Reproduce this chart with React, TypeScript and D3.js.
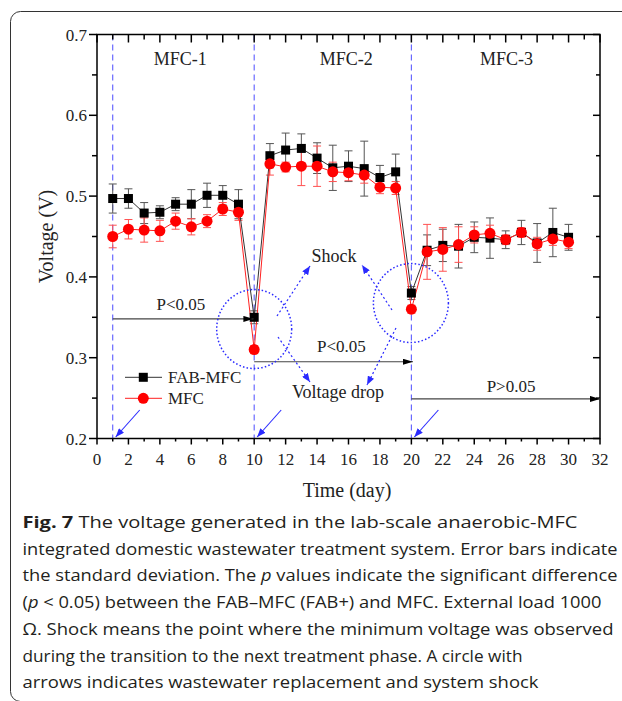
import React from "react";
import * as d3 from "d3";

const days = [1,2,3,4,5,6,7,8,9,10,11,12,13,14,15,16,17,18,19,20,21,22,23,24,25,26,27,28,29,30];
const fabMfc = [0.497,0.497,0.479,0.480,0.490,0.490,0.501,0.501,0.490,0.350,0.550,0.557,0.559,0.547,0.535,0.537,0.534,0.523,0.530,0.380,0.433,0.439,0.438,0.449,0.448,0.446,0.455,0.442,0.455,0.449];
const fabErr = [0.018,0.012,0.013,0.008,0.008,0.018,0.015,0.012,0.018,0.008,0.015,0.021,0.018,0.019,0.028,0.019,0.034,0.015,0.022,0.008,0.019,0.020,0.027,0.019,0.025,0.011,0.015,0.024,0.030,0.016];
const mfc = [0.450,0.459,0.458,0.457,0.469,0.462,0.469,0.484,0.480,0.310,0.540,0.536,0.537,0.537,0.530,0.529,0.526,0.511,0.510,0.360,0.431,0.434,0.440,0.452,0.454,0.446,0.455,0.441,0.447,0.443];
const mfcErr = [0.014,0.012,0.015,0.013,0.010,0.010,0.008,0.008,0.010,0.005,0.014,0.006,0.024,0.025,0.012,0.010,0.010,0.008,0.008,0.005,0.034,0.027,0.022,0.010,0.010,0.006,0.006,0.008,0.008,0.008];

const xMajor = [0,2,4,6,8,10,12,14,16,18,20,22,24,26,28,30,32];
const xMinor = [1,3,5,7,9,11,13,15,17,19,21,23,25,27,29,31];
const yMajor = [0.2,0.3,0.4,0.5,0.6,0.7];
const yMinor = [0.25,0.35,0.45,0.55,0.65];

const phaseLines = [1,10,20];
const phaseLabels = [{ t: "MFC-1", x: 5.3 }, { t: "MFC-2", x: 15.85 }, { t: "MFC-3", x: 26.05 }];
const pArrows = [
  { x1: 1, x2: 9.95, y: 0.348, label: "P<0.05", lx: 5.34, ly: 0.359 },
  { x1: 10, x2: 20.1, y: 0.295, label: "P<0.05", lx: 15.55, ly: 0.3075 },
  { x1: 20, x2: 32, y: 0.249, label: "P>0.05", lx: 26.34, ly: 0.258 },
];
const shockCircles = [
  { x: 10, y: 0.3355 },
  { x: 19.97, y: 0.3677 },
];

const caption = [
  "integrated domestic wastewater treatment system. Error bars indicate",
  "the standard deviation. The ",
  "(",
  "Ω. Shock means the point where the minimum voltage was observed",
  "during the transition to the next treatment phase. A circle with",
  "arrows indicates wastewater replacement and system shock",
];

const W = 622, H = 701;
const x = d3.scaleLinear().domain([0, 32]).range([97, 600]);
const y = d3.scaleLinear().domain([0.2, 0.7]).range([438.5, 34.5]);

const serif = "'Liberation Serif', 'Times New Roman', serif";
const sans = "'Open Sans', 'Noto Sans', sans-serif";

export default function App() {
  const line = d3.line<number>().x((_, i) => x(days[i])).y((d) => y(d));
  const blue = "#2a2aff";
  const [x0, x1] = x.range();
  const [yb, yt] = y.range();

  const errBars = (vals: number[], errs: number[], color: string) =>
    vals.map((v, i) => {
      const cx = x(days[i]);
      const t = y(v + errs[i]);
      const b = y(v - errs[i]);
      return (
        <g key={i} stroke={color} strokeWidth={1}>
          <line x1={cx} x2={cx} y1={t} y2={b} />
          <line x1={cx - 4} x2={cx + 4} y1={t} y2={t} />
          <line x1={cx - 4} x2={cx + 4} y1={b} y2={b} />
        </g>
      );
    });

  return (
    <svg width={W} height={H} style={{ position: "absolute", left: 0, top: 0, background: "#fff" }}>
      <defs>
        <marker id="blackArrow" viewBox="0 0 10 6" refX="10" refY="3" markerWidth="10" markerHeight="6" markerUnits="userSpaceOnUse" orient="auto">
          <path d="M0,0 L10,3 L0,6 Z" fill="#000" />
        </marker>
        <marker id="blueArrow" viewBox="0 0 10 8" refX="10" refY="4" markerWidth="9" markerHeight="7" markerUnits="userSpaceOnUse" orient="auto">
          <path d="M0,0 L10,4 L0,8 Z" fill={blue} />
        </marker>
      </defs>
      <rect x={10.5} y={11.5} width={700} height={690} rx={10} fill="none" stroke="#333" strokeWidth={1} />

      {phaseLines.map((d) => (
        <line key={d} x1={x(d)} x2={x(d)} y1={yt} y2={yb} stroke="#5c5cff" strokeWidth={1.1} strokeDasharray="6,4" />
      ))}

      {errBars(fabMfc, fabErr, "#555")}
      {errBars(mfc, mfcErr, "#ff5050")}

      <path d={line(fabMfc) || ""} fill="none" stroke="#333" strokeWidth={1} />
      <path d={line(mfc) || ""} fill="none" stroke="#ff2020" strokeWidth={1} />

      {fabMfc.map((v, i) => (
        <rect key={i} x={x(days[i]) - 4.5} y={y(v) - 4.5} width={9} height={9} fill="#000" />
      ))}
      {mfc.map((v, i) => (
        <circle key={i} cx={x(days[i])} cy={y(v)} r={5.5} fill="#ff0000" />
      ))}

      <g stroke="#000" strokeWidth={1.5} fill="none">
        <rect x={x0} y={yt} width={x1 - x0} height={yb - yt} />
        {xMajor.map((d) => (
          <g key={"xm" + d}>
            <line x1={x(d)} x2={x(d)} y1={yb} y2={yb + 6} />
            <line x1={x(d)} x2={x(d)} y1={yt} y2={yt + 8} />
          </g>
        ))}
        {xMinor.map((d) => (
          <g key={"xn" + d}>
            <line x1={x(d)} x2={x(d)} y1={yb} y2={yb + 3} />
            <line x1={x(d)} x2={x(d)} y1={yt} y2={yt + 5} />
          </g>
        ))}
        {yMajor.map((d) => (
          <g key={"ym" + d}>
            <line x1={x0 - 8} x2={x0} y1={y(d)} y2={y(d)} />
            <line x1={x1 - 7} x2={x1} y1={y(d)} y2={y(d)} />
          </g>
        ))}
        {yMinor.map((d) => (
          <g key={"yn" + d}>
            <line x1={x0 - 5} x2={x0} y1={y(d)} y2={y(d)} />
            <line x1={x1 - 4} x2={x1} y1={y(d)} y2={y(d)} />
          </g>
        ))}
      </g>

      <g fontFamily={serif} fontSize={17} fill="#222">
        {xMajor.map((d) => (
          <text key={d} x={x(d)} y={yb + 26} textAnchor="middle">{d}</text>
        ))}
        {yMajor.map((d) => (
          <text key={d} x={x0 - 10} y={y(d) + 6} textAnchor="end">{d.toFixed(1)}</text>
        ))}
      </g>

      <text x={347} y={497} textAnchor="middle" fontFamily={serif} fontSize={20} fill="#222">Time (day)</text>
      <text transform={`translate(53,${(yt + yb) / 2}) rotate(-90)`} textAnchor="middle" fontFamily={serif} fontSize={20} fill="#222">Voltage (V)</text>

      {phaseLabels.map((p) => (
        <text key={p.t} x={x(p.x)} y={65} textAnchor="middle" fontFamily={serif} fontSize={18} fill="#222">{p.t}</text>
      ))}

      {pArrows.map((a, i) => (
        <g key={i}>
          <line x1={x(a.x1)} x2={x(a.x2)} y1={y(a.y)} y2={y(a.y)} stroke="#444" strokeWidth={1.2} markerEnd="url(#blackArrow)" />
          <text x={x(a.lx)} y={y(a.ly)} textAnchor="middle" fontFamily={serif} fontSize={17} fill="#222">{a.label}</text>
        </g>
      ))}

      {shockCircles.map((c, i) => (
        <ellipse key={i} cx={x(c.x)} cy={y(c.y)} rx={37.5} ry={39.5} fill="none" stroke={blue} strokeWidth={1.5} strokeDasharray="1.5,2.2" />
      ))}

      <g stroke={blue} strokeWidth={1.2} strokeDasharray="2,2.5" fill="none">
        <line x1={277} y1={316} x2={310} y2={266} markerEnd="url(#blueArrow)" />
        <line x1={392} y1={310} x2={362} y2={265} markerEnd="url(#blueArrow)" />
        <line x1={278} y1={337} x2={310} y2={382} markerEnd="url(#blueArrow)" />
        <line x1={396} y1={328} x2={367} y2={385} markerEnd="url(#blueArrow)" />
      </g>
      <text x={334} y={262} textAnchor="middle" fontFamily={serif} fontSize={18} fill="#222">Shock</text>
      <text x={338} y={398} textAnchor="middle" fontFamily={serif} fontSize={18} fill="#222">Voltage drop</text>

      {phaseLines.map((d) => (
        <line key={d} x1={x(d) + 27} y1={410} x2={x(d) + 3} y2={437} stroke={blue} strokeWidth={1.1} markerEnd="url(#blueArrow)" />
      ))}

      <g>
        <line x1={125} x2={162} y1={377.3} y2={377.3} stroke="#333" strokeWidth={1} />
        <rect x={143.3 - 4.5} y={377.3 - 4.5} width={9} height={9} fill="#000" />
        <text x={168} y={382.5} fontFamily={serif} fontSize={17} fill="#222">FAB-MFC</text>
        <line x1={125} x2={162} y1={398.3} y2={398.3} stroke="#ff2020" strokeWidth={1} />
        <circle cx={143.3} cy={398.3} r={5.5} fill="#ff0000" />
        <text x={168} y={404} fontFamily={serif} fontSize={17} fill="#222">MFC</text>
      </g>

      <g fontFamily={sans} fontSize={16.5} fill="#231f20">
        <text x={22.5} y={528} textLength={555} lengthAdjust="spacingAndGlyphs">
          <tspan fontWeight="bold">Fig. 7</tspan>
          <tspan>{"  The voltage generated in the lab-scale anaerobic-MFC"}</tspan>
        </text>
        <text x={22.5} y={554.7} textLength={595} lengthAdjust="spacingAndGlyphs">{caption[0]}</text>
        <text x={22.5} y={581.4} textLength={595} lengthAdjust="spacingAndGlyphs">
          {caption[1]}<tspan fontStyle="italic">p</tspan>{" values indicate the significant difference"}
        </text>
        <text x={22.5} y={608.1} textLength={579} lengthAdjust="spacingAndGlyphs">
          {caption[2]}<tspan fontStyle="italic">p</tspan>{" < 0.05) between the FAB–MFC (FAB+) and MFC. External load 1000"}
        </text>
        <text x={22.5} y={634.8} textLength={591} lengthAdjust="spacingAndGlyphs">{caption[3]}</text>
        <text x={22.5} y={661.5} textLength={500} lengthAdjust="spacingAndGlyphs">{caption[4]}</text>
        <text x={22.5} y={688.2} textLength={516} lengthAdjust="spacingAndGlyphs">{caption[5]}</text>
      </g>
    </svg>
  );
}
